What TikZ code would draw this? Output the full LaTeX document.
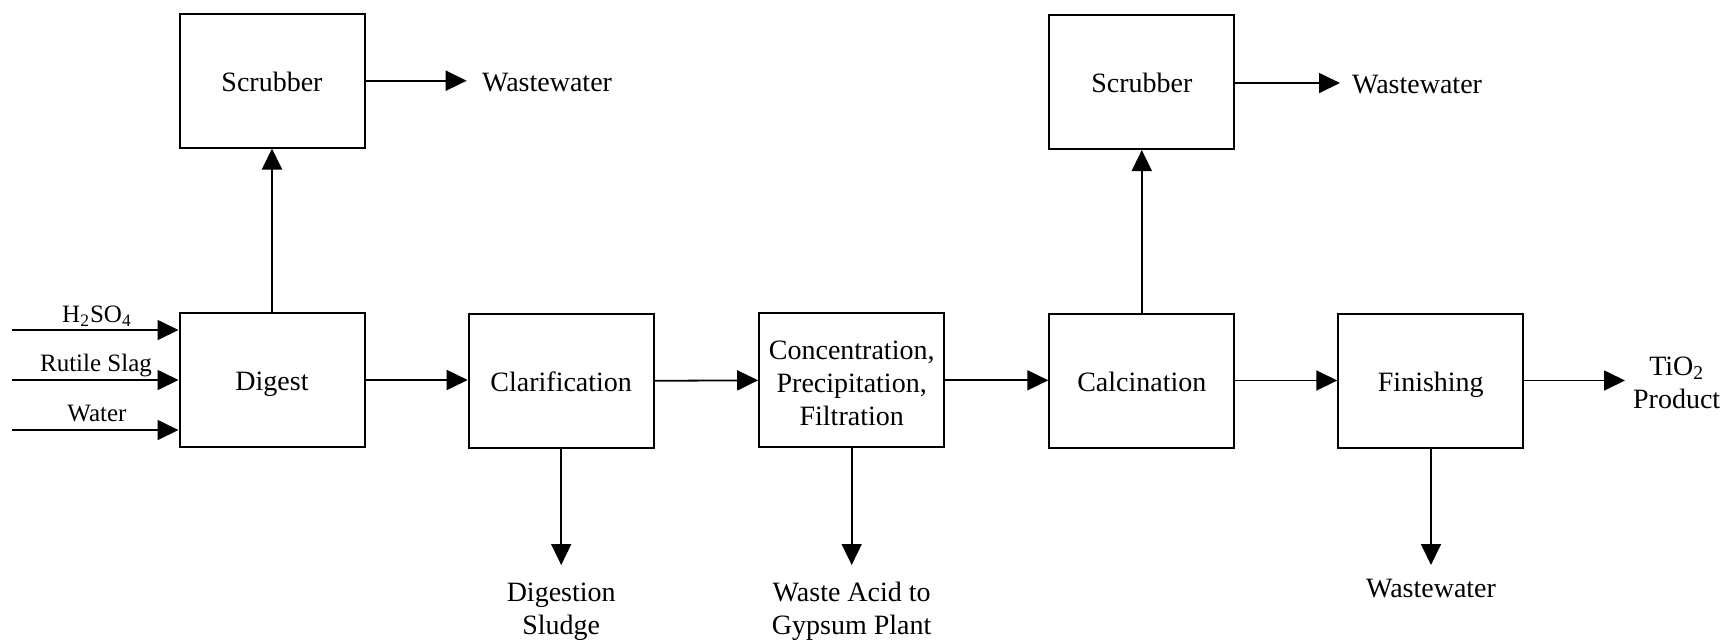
\documentclass[tikz,border=0pt]{standalone}
\usepackage{fontspec}
\setmainfont{Liberation Serif}
\usetikzlibrary{arrows.meta}
\begin{document}
\begin{tikzpicture}[x=0.5pt,y=-0.5pt,
 box/.style={draw, line width=1pt, inner sep=0pt, minimum width=92.5pt, minimum height=67pt, font=\fontsize{14}{16.5}\selectfont, align=center},
 one/.style={text height=13pt, text depth=2.5pt},
 lbl/.style={inner sep=0pt, font=\fontsize{14}{16.5}\selectfont, align=center},
 inlbl/.style={inner sep=0pt, font=\fontsize{12.5}{15}\selectfont, anchor=base},
 flow/.style={line width=0.9pt, -{Triangle[length=10.5pt,width=10pt]}}]
\useasboundingbox (0,0) rectangle (1726,639);
% process boxes
\node[box,one] (digest) at (272,380) {Digest};
\node[box,one] (scr1) at (272,80.5) {Scrubber};
\node[box,one] (clar) at (561.2,380.8) {Clarification};
\node[box] (conc) at (851.7,380.3) {\raisebox{-2.6pt}[\height][\depth]{\begin{tabular}{@{}c@{}}Concentration,\\Precipitation,\\Filtration\end{tabular}}};
\node[box,one] (calc) at (1141.8,381) {Calcination};
\node[box,one] (scr2) at (1141.8,82) {Scrubber};
\node[box,one] (fin) at (1430.8,380.5) {Finishing};
% free ends
\coordinate (in1) at (12,330);
\coordinate (in2) at (12,380);
\coordinate (in3) at (12,430);
\coordinate (ww1) at (466.7,80.7);
\coordinate (ww2) at (1340,83);
\coordinate (sl) at (561.2,565);
\coordinate (ac) at (851.7,565);
\coordinate (ww3) at (1431,565);
\coordinate (pr) at (1625,380.5);
% labels
\node[inlbl] (lh) at (97,322.5) {H\textsubscript{2}SO\textsubscript{4}};
\node[inlbl] (lr) at (96,371.7) {Rutile Slag};
\node[inlbl] (lw) at (97,421) {Water};
\node[lbl, anchor=base west] (tww1) at (481.7,91.7) {Wastewater};
\node[lbl, anchor=base west] (tww2) at (1351.7,93.3) {Wastewater};
\node[lbl] (tsl) at (561.2,611.5) {Digestion\\Sludge};
\node[lbl] (tac) at (851.7,611.5) {Waste Acid to\\Gypsum Plant};
\node[lbl, anchor=base] (tww3) at (1431,597) {Wastewater};
\node[lbl] (tpr) at (1676.7,382.5) {TiO\textsubscript{2}\\Product};
% connectors
\draw[flow] (in1) -- (digest.west |- in1);
\draw[flow] (in2) -- (digest.west |- in2);
\draw[flow] (in3) -- (digest.west |- in3);
\draw[flow] (digest.north) -- (scr1.south);
\draw[flow] (scr1.east |- ww1) -- (ww1);
\draw[flow] (digest.east) -- (clar.west |- digest.east);
\draw[flow] (clar.east) -- (conc.west);
\draw[flow] (conc.east) -- (calc.west |- conc.east);
\draw[flow] (calc.east |- fin.west) -- (fin.west);
\draw[flow] (calc.north) -- (scr2.south);
\draw[flow] (scr2.east |- ww2) -- (ww2);
\draw[flow] (clar.south) -- (sl);
\draw[flow] (conc.south) -- (ac);
\draw[flow] (fin.south -| ww3) -- (ww3);
\draw[flow] (fin.east) -- (pr);
\end{tikzpicture}
\end{document}
